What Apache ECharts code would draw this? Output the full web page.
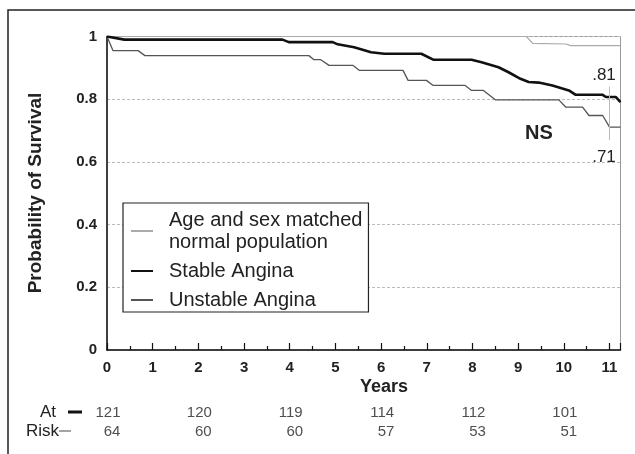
<!DOCTYPE html>
<html>
<head>
<meta charset="utf-8">
<script src="https://cdn.jsdelivr.net/npm/echarts@6/dist/echarts.min.js"></script>
<style>
  html, body { margin: 0; padding: 0; background: #fff; }
  #chart { width: 635px; height: 454px; }
</style>
</head>
<body>
<div id="chart"></div>
<script>
// curves, [years, survival]
let normalPop = [[0, 1], [9.18, 1], [9.32, 0.978], [10.05, 0.976], [10.15, 0.971], [11.24, 0.971]]
let stableAngina = [[0, 1], [0.38, 0.99], [3.84, 0.99], [3.98, 0.982], [4.94, 0.982], [5.05, 0.975], [5.41, 0.966],
    [5.78, 0.95], [6.07, 0.945], [6.88, 0.945], [7.14, 0.926], [7.98, 0.926], [8.2, 0.918], [8.57, 0.902],
    [8.79, 0.886], [9.05, 0.865], [9.23, 0.855], [9.45, 0.853], [9.75, 0.844], [10.11, 0.828], [10.26, 0.814],
    [10.85, 0.814], [10.92, 0.807], [11.14, 0.807], [11.24, 0.791]]
let unstableAngina = [[0, 1], [0.13, 0.955], [0.68, 0.955], [0.83, 0.939], [4.42, 0.939], [4.53, 0.926], [4.68, 0.926],
    [4.86, 0.908], [5.38, 0.908], [5.52, 0.892], [6.48, 0.892], [6.59, 0.86], [6.99, 0.86], [7.14, 0.844],
    [7.84, 0.844], [7.98, 0.828], [8.24, 0.828], [8.5, 0.798], [9.89, 0.798], [10.04, 0.775], [10.41, 0.775],
    [10.55, 0.748], [10.85, 0.748], [11.0, 0.711], [11.24, 0.711]]
let ciLine = [[11, 0.84], [11, 0.67]]

// numbers at risk
let riskYears = [0, 2, 4, 6, 8, 10]
let atRiskStable = [121, 120, 119, 114, 112, 101]
let atRiskUnstable = [64, 60, 60, 57, 53, 51]
let riskRows = ['At', 'Risk']

let xMax = 11.24
let fuente = "'Liberation Sans', Arial, sans-serif"

let filaStable = riskYears.map((y, i) => [y, riskRows[0], atRiskStable[i]])
let filaUnstable = riskYears.map((y, i) => [y, riskRows[1], atRiskUnstable[i]])

let myChart = echarts.init(document.getElementById('chart'), null, { renderer: 'canvas' })

function filaRiesgo(nombre, datos, dx) {
    return {
        name: nombre, type: 'scatter', xAxisIndex: 1, yAxisIndex: 1, data: datos,
        symbolSize: 1, itemStyle: { color: 'rgba(0,0,0,0)' }, silent: true,
        label: {
            show: true, position: 'inside', offset: [dx, 0], fontSize: 15, color: '#222',
            formatter: p => String(p.value[2])
        }
    }
}

let option = {
    animation: false,
    backgroundColor: '#fff',
    textStyle: { fontFamily: fuente },
    grid: [
        { left: 107, right: 14.5, top: 36.5, bottom: 104, show: true, borderColor: '#999', borderWidth: 1 },
        { left: 107, right: 14.5, top: 403, height: 38 }
    ],
    legend: {
        data: ['Age and sex matched\nnormal population', 'Stable Angina', 'Unstable Angina'],
        orient: 'vertical',
        left: 123,
        top: 203,
        padding: [6, 6, 1, 7],
        itemGap: 7,
        itemWidth: 22,
        itemHeight: 10,
        itemStyle: { opacity: 0, borderWidth: 0 },
        backgroundColor: '#fff',
        borderColor: '#222',
        borderWidth: 1.2,
        borderRadius: 0,
        selectedMode: false,
        textStyle: { fontSize: 20, color: '#222', lineHeight: 22, padding: [0, 0, 0, 11], fontFamily: fuente }
    },
    xAxis: [
        {
            type: 'value', min: 0, max: xMax, interval: 1,
            axisLine: { lineStyle: { color: '#111', width: 1.5 } },
            axisTick: { inside: true, length: 7, lineStyle: { color: '#111', width: 1.2 } },
            minorTick: { show: true, splitNumber: 2, length: 4, lineStyle: { color: '#111', width: 1.2 } },
            splitLine: { show: false },
            axisLabel: {
                margin: 10, fontSize: 15, fontWeight: 'bold', color: '#222',
                formatter: v => Number.isInteger(v) ? String(v) : ''
            }
        },
        { type: 'value', gridIndex: 1, min: 0, max: xMax, show: false }
    ],
    yAxis: [
        {
            type: 'value', min: 0, max: 1, interval: 0.2,
            axisLine: { show: true, lineStyle: { color: '#111', width: 1.5 } },
            axisTick: { show: false },
            splitLine: { lineStyle: { color: '#bbb', type: [3, 2], width: 1 } },
            axisLabel: { margin: 10, fontSize: 15, fontWeight: 'bold', color: '#222' }
        },
        { type: 'category', gridIndex: 1, data: riskRows, inverse: true, show: false }
    ],
    series: [
        {
            name: 'Age and sex matched\nnormal population', type: 'line', data: normalPop,
            symbol: 'none', lineStyle: { color: '#aaa', width: 1.2 }, itemStyle: { color: '#aaa' }, z: 2
        },
        {
            name: 'Unstable Angina', type: 'line', data: unstableAngina,
            symbol: 'none', lineStyle: { color: '#555', width: 1.3 }, itemStyle: { color: '#555' }, z: 3,
            markLine: {
                silent: true, symbol: 'none', label: { show: false },
                lineStyle: { color: '#bbb', type: 'solid', width: 1 },
                data: [[{ coord: ciLine[0] }, { coord: ciLine[1] }]]
            }
        },
        {
            name: 'Stable Angina', type: 'line', data: stableAngina,
            symbol: 'none', lineStyle: { color: '#111', width: 2.6 }, itemStyle: { color: '#111' }, z: 4
        },
        filaRiesgo('riesgoEstable', filaStable, 1),
        filaRiesgo('riesgoInestable', filaUnstable, 5)
    ],
    graphic: [
        { type: 'rect', shape: { x: 8, y: 10, width: 700, height: 500 }, style: { fill: 'none', stroke: '#222', lineWidth: 1.5 }, silent: true },
        { type: 'text', x: 36, y: 193, rotation: Math.PI / 2, style: { text: 'Probability of Survival', fontSize: 19, fontWeight: 'bold', fill: '#222', align: 'center', verticalAlign: 'middle', fontFamily: fuente } },
        { type: 'text', x: 384, y: 387, style: { text: 'Years', fontSize: 18, fontWeight: 'bold', fill: '#222', align: 'center', verticalAlign: 'middle', fontFamily: fuente } },
        { type: 'text', x: 604, y: 75, style: { text: '.81', fontSize: 17, fill: '#222', align: 'center', verticalAlign: 'middle', fontFamily: fuente } },
        { type: 'text', x: 539, y: 133, style: { text: 'NS', fontSize: 20, fontWeight: 'bold', fill: '#222', align: 'center', verticalAlign: 'middle', fontFamily: fuente } },
        { type: 'text', x: 604, y: 157, style: { text: '.71', fontSize: 17, fill: '#222', align: 'center', verticalAlign: 'middle', fontFamily: fuente } },
        { type: 'text', x: 40, y: 412, style: { text: 'At', fontSize: 17, fill: '#222', align: 'left', verticalAlign: 'middle', fontFamily: fuente } },
        { type: 'line', shape: { x1: 68, y1: 412, x2: 82, y2: 412 }, style: { stroke: '#111', lineWidth: 3 } },
        { type: 'text', x: 26, y: 431, style: { text: 'Risk', fontSize: 17, fill: '#222', align: 'left', verticalAlign: 'middle', fontFamily: fuente } },
        { type: 'line', shape: { x1: 59, y1: 431, x2: 71, y2: 431 }, style: { stroke: '#666', lineWidth: 1.2 } }
    ]
}

if (option && typeof option === 'object') {
    myChart.setOption(option)
}
window.addEventListener('resize', myChart.resize)
</script>
</body>
</html>
